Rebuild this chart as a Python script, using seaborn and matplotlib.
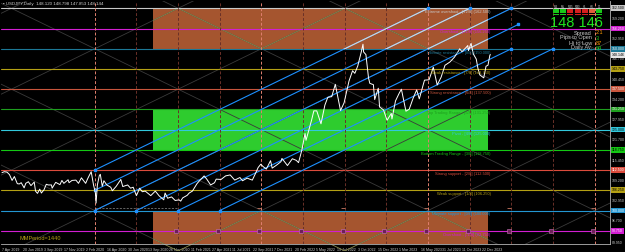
import numpy as np
import pandas as pd
import matplotlib
matplotlib.use("Agg")
import matplotlib.pyplot as plt
from matplotlib.patches import Rectangle
from matplotlib import transforms
import seaborn as sns

sns.set_theme(style="dark")
plt.rcParams["font.family"] = ["Liberation Sans", "DejaVu Sans"]

# ---------------- data ----------------
title_text = "\u25aa USDJPY,Daily  148.120 148.798 147.853 148.144"
period_text = "MMPeriod=1440"

price_dates = [
    "2019-04-07", "2019-04-15", "2019-04-24", "2019-05-03", "2019-05-13", "2019-05-21", "2019-05-31",
    "2019-06-07", "2019-06-14", "2019-06-25", "2019-07-01", "2019-07-10", "2019-07-19", "2019-07-31",
    "2019-08-05", "2019-08-12", "2019-08-20", "2019-08-26", "2019-09-04", "2019-09-12", "2019-09-19",
    "2019-10-01", "2019-10-03", "2019-10-16", "2019-10-31", "2019-11-07", "2019-11-14", "2019-11-29",
    "2019-12-03", "2019-12-13", "2019-12-27", "2020-01-06", "2020-01-16", "2020-01-31", "2020-02-07",
    "2020-02-20", "2020-02-28", "2020-03-06", "2020-03-09", "2020-03-13", "2020-03-20", "2020-03-24",
    "2020-03-31", "2020-04-06", "2020-04-16", "2020-04-30", "2020-05-06", "2020-05-20", "2020-06-05",
    "2020-06-12", "2020-06-30", "2020-07-10", "2020-07-20", "2020-07-31", "2020-08-12", "2020-08-21",
    "2020-09-01", "2020-09-21", "2020-10-07", "2020-10-21", "2020-11-06", "2020-11-11", "2020-11-20",
    "2020-12-04", "2020-12-17", "2020-12-31", "2021-01-06", "2021-01-13", "2021-01-29", "2021-02-05",
    "2021-02-17", "2021-03-05", "2021-03-12", "2021-03-31", "2021-04-09", "2021-04-23", "2021-05-07",
    "2021-05-13", "2021-05-31", "2021-06-16", "2021-07-02", "2021-07-19", "2021-08-06", "2021-08-16",
    "2021-09-01", "2021-09-20", "2021-09-30", "2021-10-11", "2021-10-20", "2021-10-28", "2021-11-09",
    "2021-11-24", "2021-11-30", "2021-12-15", "2021-12-31", "2022-01-04", "2022-01-24", "2022-02-10",
    "2022-02-24", "2022-03-04", "2022-03-16", "2022-03-28", "2022-03-31", "2022-04-12", "2022-04-20",
    "2022-04-28", "2022-05-09", "2022-05-24", "2022-06-07", "2022-06-15", "2022-06-17", "2022-07-01",
    "2022-07-14", "2022-08-02", "2022-08-15", "2022-09-01", "2022-09-14", "2022-09-22", "2022-10-03",
    "2022-10-14", "2022-10-21", "2022-10-24", "2022-11-01", "2022-11-10", "2022-11-15", "2022-11-28",
    "2022-12-02", "2022-12-15", "2022-12-20", "2023-01-03", "2023-01-16", "2023-01-31", "2023-02-02",
    "2023-02-15", "2023-02-28", "2023-03-08", "2023-03-24", "2023-04-05", "2023-04-19", "2023-05-02",
    "2023-05-11", "2023-05-30", "2023-06-15", "2023-06-30", "2023-07-14", "2023-07-28", "2023-08-11",
    "2023-08-29", "2023-09-14", "2023-09-29", "2023-10-03", "2023-10-11", "2023-10-26", "2023-11-01",
    "2023-11-03", "2023-11-13", "2023-11-21", "2023-12-01", "2023-12-07", "2023-12-14", "2023-12-28",
    "2024-01-05", "2024-01-12", "2024-01-19", "2024-01-22",
]
price_close = [
    111.7, 112.0, 111.9, 111.1, 109.3, 110.5, 108.3,
    108.2, 108.6, 107.0, 108.4, 108.9, 107.7, 108.8,
    106.0, 105.3, 106.6, 105.4, 106.4, 108.1, 107.9,
    107.9, 106.9, 108.7, 108.0, 109.3, 108.4, 109.5,
    108.6, 109.3, 109.4, 108.4, 110.1, 108.4, 109.8,
    112.0, 108.0, 105.4, 102.3, 107.9, 110.8, 111.2,
    107.5, 109.2, 107.9, 107.2, 106.1, 107.5, 109.6,
    107.4, 107.9, 106.9, 107.2, 104.6, 106.9, 105.8,
    106.0, 104.6, 106.0, 104.5, 103.3, 105.4, 103.8,
    104.2, 103.1, 103.3, 102.9, 103.9, 104.7, 105.4,
    106.0, 108.3, 109.0, 110.7, 109.7, 107.9, 108.6,
    109.7, 109.6, 110.7, 111.0, 109.4, 110.2, 109.2,
    110.0, 109.4, 111.3, 113.3, 114.3, 113.6, 112.8,
    115.4, 113.1, 114.0, 115.1, 116.1, 113.9, 116.0,
    115.5, 114.8, 118.6, 123.8, 121.7, 125.4, 127.9,
    130.8, 130.8, 126.8, 132.6, 134.5, 135.0, 135.2,
    139.0, 130.9, 133.3, 140.0, 143.2, 142.4, 144.7,
    148.7, 151.4, 149.0, 148.2, 141.0, 139.3, 138.9,
    134.3, 137.8, 132.0, 131.1, 127.9, 130.0, 128.3,
    133.9, 136.2, 137.5, 130.7, 131.3, 134.7, 137.3,
    134.5, 140.3, 140.4, 144.3, 138.8, 141.2, 144.9,
    145.9, 147.4, 149.4, 150.0, 149.1, 150.4, 151.0,
    149.4, 151.7, 148.4, 146.8, 144.0, 141.9, 141.0,
    144.6, 144.9, 148.1, 148.14,
]
current_price = 148.146

mm_levels = [162.5, 156.25, 150.0, 143.75, 137.5, 131.25, 125.0, 118.75, 112.5, 106.25, 100.0, 93.75]
mm_names = [
    "Extreme overshoot - [+2/8]", "Overshoot - [+1/8]", "Ultimate resistance - [8/8]",
    "Weak resistance - [7/8]", "Strong resistance - [6/8]", "Top Trading Range - [5/8]",
    "Pivot - [4/8]", "Bottom Trading Range - [3/8]", "Strong support - [2/8]",
    "Weak support - [1/8]", "Ultimate support - [0/8]", "Overshoot - [-1/8]",
]
mm_colors = ["#C8C8C8", "#D21ED2", "#1C7896", "#B4A014", "#C8553C", "#1E9E1E",
             "#32C8DC", "#14C814", "#DC4B3C", "#B4A014", "#2396D2", "#D21ED2"]
mm_box_text = ["black", "white", "white", "black", "white", "white",
               "black", "black", "white", "black", "white", "white"]

zone_start, zone_end = "2020-09-29", "2024-01-12"
zone_low = [150.0, 118.75, 87.5]
zone_high = [162.5, 131.25, 100.0]
zone_colors = ["#A5552F", "#2ECC2E", "#A5552F"]

time_line_dates = ["2020-03-04", "2020-07-31", "2020-12-28", "2021-05-26", "2021-10-22",
                   "2022-03-21", "2022-08-17", "2023-01-13", "2023-06-12", "2023-11-08",
                   "2024-04-05", "2024-09-02", "2025-01-29"]
time_line_major = [True, False, False, False, True, False, False, False, True, False, False, False, True]
frame_mark_price = 93.75
frame_tick_price = 100.8
frame_seg_start, frame_seg_end = "2020-03-04", "2020-12-28"

grid_anchor_date, grid_anchor_price = "2020-03-04", 150.0
grid_step_price, grid_rise_per_frame = 25.0, 12.5      # rise per two time frames

channel_start_dates = ["2020-03-04", "2020-03-04", "2020-03-04", "2020-07-31", "2020-12-28", "2021-05-26"]
channel_start_prices = [112.5, 106.25, 100.0, 100.0, 100.0, 100.0]
channel_end_dates = ["2023-06-12", "2023-11-08", "2024-04-05", "2024-04-30", "2024-04-05", "2024-09-02"]
channel_end_prices = [162.5, 162.5, 162.5, 157.5, 150.0, 150.0]

date_labels = ["7 Apr 2019", "20 Jun 2019", "3 Sep 2019", "17 Nov 2019", "2 Feb 2020", "16 Apr 2020",
               "30 Jun 2020", "13 Sep 2020", "26 Nov 2020", "11 Feb 2021", "27 Apr 2021", "11 Jul 2021",
               "22 Sep 2021", "7 Dec 2021", "20 Feb 2022", "5 May 2022", "19 Jul 2022", "3 Oct 2022",
               "15 Dec 2022", "1 Mar 2023", "16 May 2023", "31 Jul 2023", "11 Oct 2023", "22 Dec 2023"]
axis_prices = [159.200, 152.950, 146.700, 140.450, 134.200, 127.950, 121.700,
               115.450, 109.200, 102.950, 96.700, 89.950]

panel_labels = ["Spread", "Pips to Open", "Hi to Low", "Daily Av."]
panel_values = ["2.1", "3", "87", "94"]
panel_value_colors = ["#FF9900", "#19C819", "#FF9900", "#19C819"]
tf_names = ["M1", "M5", "M15", "M30", "H1", "H4", "D1"]
tf_colors = ["#19C819", "#19C819", "#D21E1E", "#D21E1E", "#D21E1E", "#E0603C", "#19C819"]

# ---------------- helpers ----------------
WEEKMASK = "1111101"   # bars Sunday..Friday
ORIGIN = np.datetime64("2019-04-07")


def bar(d):
    return int(np.busday_count(ORIGIN, np.datetime64(pd.Timestamp(d).date()), weekmask=WEEKMASK))


W, H = 625, 252
fig = plt.figure(figsize=(W / 100, H / 100), dpi=100, facecolor="black")
ax = fig.add_axes([1 / W, 8 / H, 609 / W, 243 / H])
ax.set_facecolor("black")
PX_PER_BAR = 0.3255
x_left = -1 / PX_PER_BAR
x_right = x_left + 609 / PX_PER_BAR
y_top = 164.76
y_bot = y_top - 243 * 0.3091
ax.set_xlim(x_left, x_right)
ax.set_ylim(y_bot, y_top)

# zones
zs, ze = bar(zone_start), bar(zone_end)
zone_patches = []
for lo, hi, c in zip(zone_low, zone_high, zone_colors):
    r = Rectangle((zs, lo), ze - zs, hi - lo, facecolor=c, edgecolor="none", zorder=1)
    ax.add_patch(r)
    zone_patches.append((r, c))

# murrey grid diagonals
g0 = bar(grid_anchor_date)
slope = grid_rise_per_frame / (2 * 128)
xs = np.array([x_left, x_right])
for k in range(-10, 10):
    for sgn in (1, -1):
        ys = grid_anchor_price + k * grid_step_price + sgn * slope * (xs - g0)
        ax.plot(xs, ys, color="#3A3A3A", lw=0.6, zorder=1.5)
        for r, c in zone_patches:
            if c != "#2ECC2E":
                ln, = ax.plot(xs, ys, color="#8A8A4E", lw=0.6, zorder=1.6)
                ln.set_clip_path(r)

# time lines
tl_bars = [bar(d) for d in time_line_dates]
for b, major in zip(tl_bars, time_line_major):
    ax.axvline(b, color="#E07F6E" if major else "#6A3028", lw=0.7,
               ls=(0, (3, 2)), zorder=2.5)
ax.plot([bar(frame_seg_start), bar(frame_seg_end)], [frame_tick_price] * 2, color="#8C8C8C",
        lw=0.5, ls=(0, (3, 2)), zorder=2.4)

# murrey levels
for lvl, c in zip(mm_levels, mm_colors):
    ax.axhline(lvl, color=c, lw=0.8, zorder=2)

# frame markers on the lowest level
ax.plot([b - 6 for b in tl_bars[2:]], [frame_mark_price] * len(tl_bars[2:]), ls="none", marker="s",
        ms=2.4, mfc="#6E1E5A", mec="#C878B4", mew=0.4, zorder=2.6)
ax.plot([b - 6 for b in tl_bars[4::2]], [frame_tick_price] * len(tl_bars[4::2]), ls="none",
        marker="_", ms=2.5, color="#C87864", mew=0.6, zorder=2.6)

# channel lines
for sd, sp, ed, ep in zip(channel_start_dates, channel_start_prices, channel_end_dates, channel_end_prices):
    bx = [bar(sd), bar(ed)]
    ax.plot(bx, [sp, ep], color="#1E90FF", lw=0.8, zorder=3)
    ln, = ax.plot(bx, [sp, ep], color="#DADADA", lw=0.8, zorder=3.1)
    ln.set_clip_path(zone_patches[0][0])
    ax.plot(bx, [sp, ep], ls="none", marker="s", ms=1.8, color="#1E90FF", zorder=3.2)

# price
dfp = pd.DataFrame({"bar": [bar(d) for d in price_dates], "close": price_close})
sns.lineplot(data=dfp, x="bar", y="close", color="white", lw=0.7, ax=ax, zorder=4)

# murrey level labels
for lvl, name, c in zip(mm_levels, mm_names, mm_colors):
    ax.text(ze + 8, lvl - 0.6, f"{name} ({lvl:.3f})", color=c, fontsize=2.9,
            ha="right", va="top", zorder=5)

# axes styling
ax.set_xlabel("")
ax.set_ylabel("")
ax.grid(False)
for s in ("top", "left"):
    ax.spines[s].set_visible(False)
for s in ("bottom", "right"):
    ax.spines[s].set_color("#B4B4B4")
    ax.spines[s].set_linewidth(0.6)
ax.set_xticks([bar(pd.Timestamp(t)) for t in date_labels])
ax.set_xticklabels(date_labels, fontsize=2.6, color="#D0D0D0", ha="left")
ax.tick_params(axis="x", length=2, width=0.5, color="#B4B4B4", pad=1.2)
ax.set_yticks([])

# right price axis labels
tr = transforms.blended_transform_factory(ax.transAxes, ax.transData)
for p in axis_prices:
    ax.text(1.003, p, f"{p:.3f}", transform=tr, fontsize=2.5, color="#C8C8C8",
            ha="left", va="center", clip_on=False)
for lvl, c, tc in zip(mm_levels, mm_colors, mm_box_text):
    ax.text(1.003, lvl, f"{lvl:.3f}", transform=tr, fontsize=2.5, color=tc,
            ha="left", va="center", clip_on=False,
            bbox=dict(boxstyle="square,pad=0.25", fc=c, ec="none"))
ax.text(1.003, current_price, f"{current_price:.3f}", transform=tr, fontsize=2.5, color="black",
        ha="left", va="center", clip_on=False,
        bbox=dict(boxstyle="square,pad=0.25", fc="#E6E6E6", ec="none"))

# title and period text
fig.text(3 / W, 1 - 4 / H, title_text, fontsize=3.2, color="#D0D0D0", ha="left", va="center")
fig.text(20 / W, 1 - 239 / H, period_text, fontsize=4.0, color="#B4A014", ha="left", va="center")

# info panel
for i, (n, c) in enumerate(zip(tf_names, tf_colors)):
    xc = (556 + i * 7.2) / W
    fig.text(xc, 1 - 7 / H, n, fontsize=2.0, color="#C8C8C8", ha="center", va="center")
    for j in range(3):
        fig.patches.append(Rectangle((xc - 3 / W, 1 - (10.5 + j * 2.4) / H), 6 / W, 1.6 / H,
                                     transform=fig.transFigure, facecolor=c, edgecolor="none"))
fig.text(603 / W, 1 - 23 / H, f"{current_price:.3f}".replace(".", " "), fontsize=10.5,
         color="#1EE61E", ha="right", va="center")
for i, (lab, val, vc) in enumerate(zip(panel_labels, panel_values, panel_value_colors)):
    yy = 1 - (33 + i * 5) / H
    fig.text(592 / W, yy, lab, fontsize=4.0, color="#C8C8C8", ha="right", va="center")
    fig.text(596 / W, yy, val, fontsize=4.0, color=vc, ha="left", va="center")

fig.savefig("out.png", dpi=100, facecolor="black")
